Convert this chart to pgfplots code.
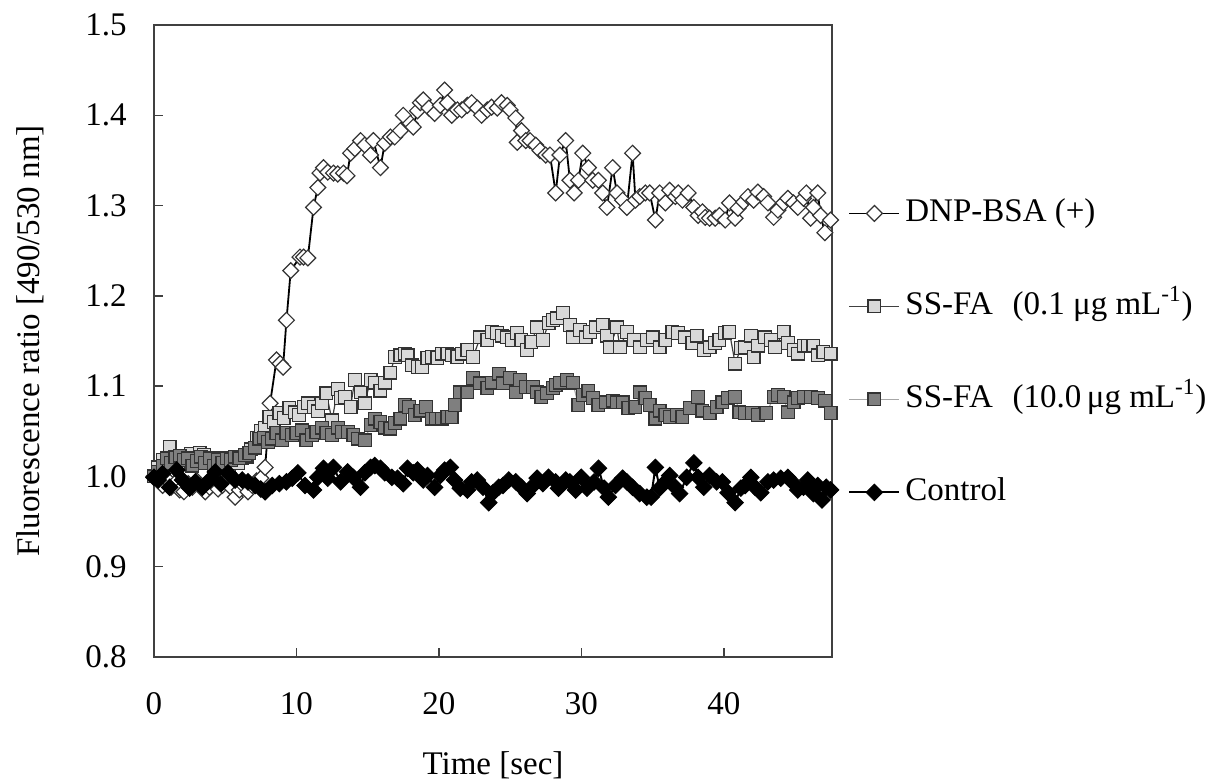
\documentclass[border=0pt]{standalone}
\usepackage{pgfplots}
\pgfplotsset{compat=1.18}
\usepackage{fontspec}
\setmainfont{Liberation Serif}
\definecolor{lightsq}{HTML}{D9D9D9}
\definecolor{darksq}{HTML}{7F7F7F}
\definecolor{edgec}{HTML}{333333}
\definecolor{axc}{HTML}{404040}
\begin{document}
\fontsize{16.5}{19.8}\selectfont
\begin{tikzpicture}
\begin{axis}[
  scale only axis, width=339pt, height=316pt,
  xmin=0, xmax=47.6, ymin=0.8, ymax=1.5,
  xtick={0,10,20,30,40},
  ytick={0.8,0.9,1.0,1.1,1.2,1.3,1.4,1.5},
  yticklabel style={/pgf/number format/fixed, /pgf/number format/fixed zerofill, /pgf/number format/precision=1, xshift=-8pt},
  /pgf/number format/assume math mode=true,
  xtick pos=bottom, ytick pos=left,
  tick align=inside, major tick length=4.5pt,
  tick style={color=axc, line width=0.75pt},
  axis line style={color=axc, line width=0.8pt},
  tick label style={font=\fontsize{16.5}{19.8}\selectfont},
  xticklabel style={yshift=-12pt},
  xlabel={Time [sec]},
  ylabel={Fluorescence ratio [490/530 nm]},
  label style={font=\fontsize{16.5}{19.8}\selectfont},
  xlabel style={at={(axis description cs:0.5,-0.171)}, anchor=center},
  ylabel style={at={(axis description cs:-0.183,0.5)}, anchor=center},
  clip=false,
  legend cell align=left,
  legend style={at={(axis description cs:1,1)}, anchor=north west,
    xshift=8pt, yshift=-86pt, draw=none, fill=none, inner sep=0pt,
    row sep=30.5pt, column sep=2.5pt,
    nodes={inner sep=0pt, text height=12pt, text depth=4pt},
    font=\fontsize{16.5}{19.8}\selectfont},
  legend image code/.code={\draw[mark repeat=2,mark phase=2,#1] plot coordinates {(0pt,0pt) (12.5pt,0pt) (25pt,0pt)};},
]
% DNP-BSA (+)
\addplot[black, line width=0.9pt, mark=square*, mark size=2.8pt,
  mark options={rotate=45, fill=white, draw=edgec, line width=0.6pt, solid}]
coordinates {
(0.0,1.000)(0.3,0.995)(0.6,0.990)(0.9,0.997)(1.2,0.988)(1.5,0.993)(1.8,0.985)(2.1,0.983)
(2.4,0.992)(2.7,0.988)(3.0,0.995)(3.3,0.990)(3.6,0.983)(3.9,0.988)(4.2,0.993)(4.5,0.986)
(4.8,0.990)(5.1,0.995)(5.4,0.988)(5.7,0.977)(6.0,0.985)(6.3,0.990)(6.6,0.983)(6.9,0.990)
(7.2,0.995)(7.5,0.998)(7.8,1.010)(8.15,1.081)(8.6,1.129)(8.85,1.125)(9.06,1.121)(9.3,1.173)
(9.6,1.228)(10.25,1.243)(10.5,1.243)(10.8,1.242)(11.2,1.298)(11.5,1.320)(11.65,1.336)(11.9,1.342)
(12.2,1.337)(12.6,1.336)(12.9,1.335)(13.3,1.336)(13.55,1.333)(13.8,1.358)(14.1,1.363)(14.5,1.372)
(14.8,1.367)(15.2,1.356)(15.4,1.372)(15.9,1.342)(16.2,1.369)(16.6,1.376)(16.9,1.376)(17.3,1.383)
(17.5,1.400)(18.0,1.391)(18.2,1.387)(18.5,1.405)(18.7,1.414)(18.9,1.417)(19.3,1.408)(19.7,1.402)
(20.1,1.411)(20.4,1.428)(20.6,1.414)(20.9,1.400)(21.3,1.406)(21.6,1.406)(22.0,1.411)(22.3,1.414)
(22.7,1.408)(23.0,1.400)(23.4,1.406)(23.7,1.409)(24.1,1.408)(24.4,1.414)(24.8,1.411)(25.0,1.406)
(25.4,1.397)(25.5,1.370)(25.8,1.383)(26.1,1.372)(26.4,1.372)(26.8,1.367)(27.1,1.361)(27.5,1.356)
(27.8,1.356)(28.2,1.314)(28.5,1.356)(28.9,1.372)(29.2,1.328)(29.5,1.314)(29.8,1.328)(30.1,1.358)
(30.5,1.342)(30.8,1.328)(31.2,1.328)(31.5,1.314)(31.8,1.298)(32.2,1.342)(32.5,1.314)(32.9,1.306)
(33.2,1.298)(33.6,1.358)(33.8,1.306)(34.1,1.310)(34.5,1.314)(34.8,1.314)(35.2,1.284)(35.5,1.314)
(35.9,1.303)(36.2,1.317)(36.6,1.310)(36.8,1.314)(37.1,1.306)(37.5,1.314)(37.9,1.298)(38.2,1.289)
(38.5,1.293)(38.7,1.287)(39.0,1.286)(39.4,1.286)(39.7,1.289)(40.1,1.284)(40.4,1.303)(40.8,1.286)
(41.0,1.297)(41.4,1.304)(41.7,1.310)(42.1,1.306)(42.4,1.315)(42.8,1.310)(43.1,1.303)(43.5,1.287)
(43.8,1.295)(44.2,1.303)(44.5,1.308)(44.9,1.303)(45.2,1.298)(45.6,1.308)(45.8,1.314)(46.1,1.286)
(46.3,1.298)(46.6,1.314)(46.8,1.289)(47.1,1.270)(47.5,1.284)
};
\addlegendentry{DNP-BSA (+)}
% SS-FA 0.1
\addplot[color=axc, line width=0.6pt, mark=square*, mark size=3.2pt,
  mark options={fill=lightsq, draw=edgec, line width=0.6pt, solid}]
coordinates {
(0.0,1.000)(0.3,1.010)(0.6,1.018)(0.9,1.020)(1.1,1.033)(1.4,1.020)(1.7,1.015)(2.0,1.022)
(2.3,1.018)(2.6,1.025)(2.9,1.020)(3.2,1.026)(3.5,1.024)(3.8,1.020)(4.1,1.015)(4.4,1.020)
(4.7,1.013)(5.0,1.016)(5.3,1.012)(5.6,1.018)(5.9,1.015)(6.2,1.020)(6.5,1.022)(6.8,1.030)
(7.2,1.043)(7.5,1.050)(7.8,1.054)(8.1,1.066)(8.4,1.060)(8.8,1.070)(9.1,1.065)(9.5,1.076)
(9.9,1.071)(10.2,1.068)(10.5,1.077)(10.8,1.081)(11.2,1.077)(11.5,1.072)(11.8,1.081)(12.1,1.092)
(12.5,1.062)(12.9,1.097)(13.1,1.087)(13.4,1.088)(13.8,1.077)(14.1,1.107)(14.5,1.093)(14.8,1.081)
(15.2,1.107)(15.5,1.104)(15.9,1.095)(16.2,1.104)(16.6,1.115)(16.9,1.132)(17.3,1.134)(17.6,1.136)
(17.8,1.134)(18.1,1.123)(18.5,1.121)(18.8,1.121)(19.2,1.131)(19.5,1.132)(19.9,1.131)(20.2,1.136)
(20.6,1.136)(20.9,1.134)(21.3,1.132)(21.6,1.136)(22.0,1.140)(22.4,1.132)(22.9,1.154)(23.4,1.151)
(23.7,1.160)(24.1,1.159)(24.4,1.156)(24.8,1.154)(25.1,1.151)(25.5,1.159)(25.8,1.151)(26.2,1.140)
(26.5,1.149)(26.9,1.165)(27.3,1.151)(27.7,1.170)(28.0,1.173)(28.3,1.175)(28.7,1.181)(29.2,1.168)
(29.4,1.154)(29.9,1.162)(30.3,1.154)(30.6,1.160)(31.0,1.165)(31.5,1.168)(31.8,1.156)(32.0,1.143)
(32.5,1.165)(32.7,1.143)(33.2,1.160)(33.7,1.151)(34.1,1.143)(34.6,1.151)(35.0,1.154)(35.5,1.143)
(35.9,1.151)(36.4,1.160)(36.8,1.159)(37.3,1.154)(37.8,1.148)(38.1,1.156)(38.6,1.140)(39.0,1.143)
(39.4,1.148)(39.7,1.151)(40.1,1.159)(40.4,1.160)(40.8,1.125)(41.2,1.142)(41.5,1.143)(41.9,1.156)
(42.1,1.132)(42.4,1.145)(42.9,1.154)(43.3,1.151)(43.6,1.143)(44.2,1.160)(44.5,1.148)(44.9,1.140)
(45.2,1.136)(45.6,1.145)(45.9,1.145)(46.3,1.145)(46.6,1.134)(47.0,1.138)(47.5,1.136)
};
\addlegendentry{SS-FA\hspace{0.6em}(0.1 μg mL\textsuperscript{-1})}
% SS-FA 10.0
\addplot[color=black!35, line width=0.6pt, mark=square*, mark size=3.2pt,
  mark options={fill=darksq, draw=edgec, line width=0.6pt, solid}]
coordinates {
(0.0,1.000)(0.3,1.005)(0.6,1.012)(0.9,1.020)(1.2,1.015)(1.5,1.021)(1.8,1.023)(2.1,1.018)
(2.4,1.020)(2.7,1.012)(3.0,1.017)(3.3,1.022)(3.6,1.015)(3.9,1.020)(4.2,1.012)(4.5,1.018)
(4.8,1.015)(5.1,1.020)(5.4,1.018)(5.7,1.022)(6.0,1.020)(6.4,1.024)(6.7,1.026)(7.1,1.032)
(7.4,1.042)(7.7,1.043)(8.0,1.038)(8.3,1.042)(8.6,1.048)(9.0,1.040)(9.3,1.048)(9.7,1.046)
(10.0,1.048)(10.4,1.051)(10.7,1.040)(11.1,1.046)(11.4,1.049)(11.8,1.054)(12.1,1.048)(12.5,1.046)
(12.9,1.054)(13.2,1.049)(13.6,1.049)(14.0,1.046)(14.3,1.042)(14.8,1.040)(15.2,1.057)(15.5,1.064)
(15.9,1.060)(16.2,1.054)(16.6,1.053)(16.9,1.059)(17.3,1.064)(17.6,1.079)(17.9,1.077)(18.3,1.068)
(18.7,1.073)(19.1,1.077)(19.5,1.064)(19.8,1.064)(20.2,1.064)(20.6,1.066)(20.9,1.066)(21.1,1.079)
(21.5,1.093)(22.0,1.093)(22.4,1.109)(22.9,1.103)(23.4,1.098)(23.7,1.104)(24.2,1.114)(24.5,1.103)
(25.0,1.109)(25.4,1.093)(25.7,1.107)(26.1,1.099)(26.6,1.099)(26.9,1.093)(27.2,1.088)(27.6,1.092)
(28.0,1.098)(28.2,1.101)(28.5,1.104)(29.0,1.107)(29.4,1.104)(29.8,1.079)(30.1,1.090)(30.5,1.095)
(30.8,1.087)(31.2,1.079)(31.7,1.082)(32.2,1.084)(32.5,1.082)(32.9,1.082)(33.3,1.076)(33.8,1.077)
(34.1,1.093)(34.5,1.087)(34.8,1.079)(35.2,1.064)(35.5,1.073)(35.9,1.068)(36.2,1.066)(36.7,1.068)
(37.1,1.066)(37.6,1.076)(38.2,1.088)(38.5,1.073)(39.0,1.070)(39.5,1.077)(39.9,1.082)(40.3,1.087)
(40.8,1.088)(41.1,1.071)(41.5,1.070)(42.0,1.070)(42.4,1.068)(43.0,1.070)(43.5,1.088)(43.8,1.090)
(44.2,1.088)(44.5,1.071)(44.9,1.082)(45.2,1.087)(45.6,1.088)(46.1,1.088)(46.6,1.087)(47.1,1.084)
(47.5,1.070)
};
\addlegendentry{SS-FA\hspace{0.6em}(10.0\,μg mL\textsuperscript{-1})}
% Control
\addplot[black, line width=1pt, mark=square*, mark size=2.9pt,
  mark options={rotate=45, fill=black, draw=black, line width=0.5pt, solid}]
coordinates {
(0.0,0.999)(0.3,0.996)(0.6,1.003)(1.1,0.988)(1.6,1.007)(2.0,0.996)(2.5,0.987)(2.9,0.994)
(3.4,0.988)(3.9,0.996)(4.3,1.005)(4.7,0.992)(5.2,1.004)(5.7,0.996)(6.2,0.996)(6.6,0.994)
(7.1,0.990)(7.5,0.986)(7.8,0.983)(8.3,0.990)(8.8,0.992)(9.3,0.994)(9.7,0.998)(10.1,1.004)
(10.6,0.990)(11.2,0.985)(11.5,0.999)(11.9,1.009)(12.2,0.998)(12.6,1.010)(13.1,0.994)(13.6,1.005)
(14.0,0.999)(14.5,0.988)(14.8,1.004)(15.2,1.010)(15.5,1.012)(15.9,1.009)(16.2,1.004)(16.7,0.999)
(17.1,0.998)(17.5,0.992)(17.8,1.009)(18.2,1.004)(18.5,1.007)(18.9,0.996)(19.2,1.001)(19.7,0.988)
(20.1,1.001)(20.4,1.007)(20.8,1.010)(21.1,0.996)(21.5,0.987)(22.0,0.985)(22.3,0.994)(22.7,0.996)
(23.1,0.988)(23.5,0.971)(23.8,0.982)(24.2,0.988)(24.5,0.990)(24.9,0.996)(25.4,0.994)(25.8,0.988)
(26.2,0.981)(26.5,0.988)(26.9,0.998)(27.3,0.992)(27.7,0.999)(28.2,0.994)(28.4,0.987)(28.9,0.996)
(29.2,0.994)(29.6,0.985)(30.0,0.999)(30.4,0.987)(30.9,0.994)(31.2,1.009)(31.6,0.987)(31.9,0.977)
(32.4,0.990)(32.9,0.998)(33.2,0.994)(33.6,0.988)(34.1,0.981)(34.6,0.977)(34.9,0.977)(35.2,1.010)
(35.5,0.987)(35.9,0.994)(36.2,1.001)(36.6,0.988)(36.9,0.981)(37.4,0.999)(37.9,1.015)(38.2,0.999)
(38.6,0.988)(39.0,1.001)(39.5,0.994)(39.9,0.994)(40.3,0.982)(40.8,0.971)(41.2,0.987)(41.5,0.990)
(41.9,0.999)(42.2,0.988)(42.6,0.982)(43.1,0.994)(43.5,0.996)(44.0,0.998)(44.5,0.999)(44.8,0.994)
(45.2,0.985)(45.6,0.988)(45.9,0.996)(46.3,0.981)(46.6,0.990)(46.9,0.974)(47.2,0.988)(47.5,0.985)
};
\addlegendentry{Control}
\end{axis}
\pgfresetboundingbox
\path (current axis.south west) ++(-77pt,-63pt) rectangle ++(615.5pt,391.5pt);
\end{tikzpicture}
\end{document}
